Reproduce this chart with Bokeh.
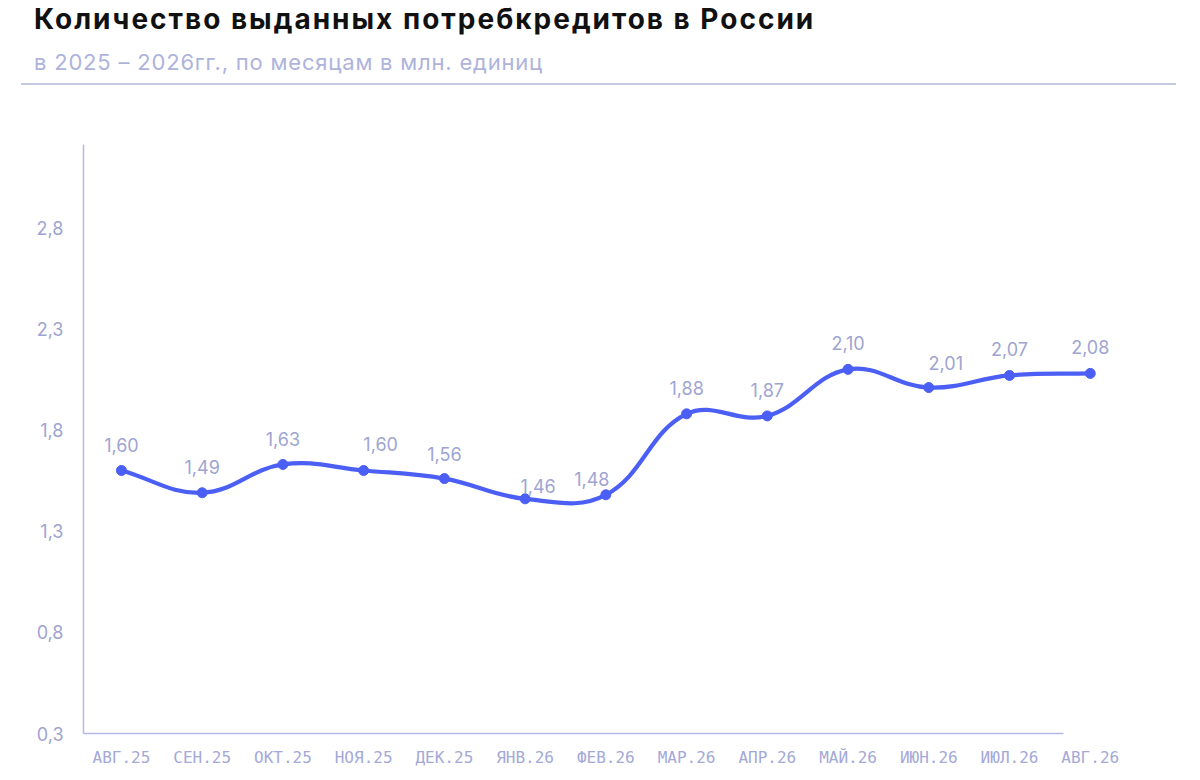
from bokeh.plotting import figure
from bokeh.models import Div, FixedTicker, CustomJSTickFormatter
from bokeh.layouts import column
from bokeh.core.properties import value
from bokeh.embed import file_html
from bokeh.resources import INLINE
import numpy as np

# data
months = ["АВГ.25", "СЕН.25", "ОКТ.25", "НОЯ.25", "ДЕК.25", "ЯНВ.26", "ФЕВ.26",
          "МАР.26", "АПР.26", "МАЙ.26", "ИЮН.26", "ИЮЛ.26", "АВГ.26"]
loans = [1.60, 1.49, 1.63, 1.60, 1.56, 1.46, 1.48, 1.88, 1.87, 2.10, 2.01, 2.07, 2.08]
y_ticks = [0.3, 0.8, 1.3, 1.8, 2.3, 2.8]

title = "Количество выданных потребкредитов в России"
subtitle = "в 2025 – 2026гг., по месяцам в млн. единиц"

# label nudges (px) so the value labels do not collide with the line
label_dx = [0, 0, 0, 17, 0, 13, -14, 0, 0, 0, 17, 0, 0]
label_dy = [-26, -26, -25, -27, -25, -13, -16, -26, -26, -26, -25, -26, -26]

BLUE = "#4b5ff5"
LAV = "#9ea4d2"
AXIS = "#b4b8e6"

xs = list(range(len(months)))
labels = [f"{v:.2f}".replace(".", ",") for v in loans]

W, H = 1184, 664
left, right, top, bottom = 83, 45, 34, 41
x0, x1 = -0.47, 12.61
y0 = 0.3
y1 = y0 + (H - top - bottom) / 202.3

p = figure(width=W, height=H, x_range=(x0, x1), y_range=(y0, y1),
           output_backend="svg", toolbar_location=None,
           min_border_left=left, min_border_right=right,
           min_border_top=top, min_border_bottom=bottom)
p.outline_line_color = None
p.xgrid.grid_line_color = None
p.ygrid.grid_line_color = None
p.background_fill_color = "white"
p.border_fill_color = "white"

# smooth line: chart.js-like spline, drawn as bezier segments
sx = (W - left - right) / (x1 - x0)
sy = (H - top - bottom) / (y1 - y0)
t = 0.4
px = np.array(xs, dtype=float)
py = np.array(loans, dtype=float)
n = len(px)
cin_x, cin_y = px.copy(), py.copy()
cout_x, cout_y = px.copy(), py.copy()
for i in range(n):
    ip = max(i - 1, 0)
    inx = min(i + 1, n - 1)
    d01 = np.hypot((px[i] - px[ip]) * sx, (py[i] - py[ip]) * sy)
    d12 = np.hypot((px[inx] - px[i]) * sx, (py[inx] - py[i]) * sy)
    s = d01 + d12
    fa = t * d01 / s if s else 0
    fb = t * d12 / s if s else 0
    cin_x[i] = px[i] - fa * (px[inx] - px[ip])
    cin_y[i] = py[i] - fa * (py[inx] - py[ip])
    cout_x[i] = px[i] + fb * (px[inx] - px[ip])
    cout_y[i] = py[i] + fb * (py[inx] - py[ip])

p.bezier(x0=px[:-1], y0=py[:-1], x1=px[1:], y1=py[1:],
         cx0=cout_x[:-1], cy0=cout_y[:-1], cx1=cin_x[1:], cy1=cin_y[1:],
         line_color=BLUE, line_width=4.2, line_cap="round")
p.scatter(xs, loans, size=10, color=BLUE)

p.text(x=xs, y=loans, text=labels, x_offset=label_dx, y_offset=label_dy,
       text_align="center", text_baseline="middle",
       text_font=value("Inter"), text_font_size="18px", text_color=LAV)

# axes
p.xaxis.ticker = FixedTicker(ticks=xs)
p.xaxis.major_label_overrides = {i: m for i, m in enumerate(months)}
p.xaxis.bounds = (x0, 11.67)
p.yaxis.ticker = FixedTicker(ticks=y_ticks)
p.yaxis.formatter = CustomJSTickFormatter(code="return tick.toFixed(1).replace('.', ',')")
for ax in (p.xaxis, p.yaxis):
    ax.axis_line_color = AXIS
    ax.axis_line_width = 1.5
    ax.major_tick_line_color = None
    ax.minor_tick_line_color = None
    ax.major_tick_out = 0
    ax.major_tick_in = 0
    ax.major_label_text_color = LAV
p.xaxis.major_label_text_font = "DejaVu Sans Mono"
p.xaxis.major_label_text_font_size = "16px"
p.xaxis.major_label_text_color = "#a4a9d8"
p.xaxis.major_label_standoff = 14
p.yaxis.major_label_text_font = "Inter"
p.yaxis.major_label_text_font_size = "18px"
p.yaxis.major_label_standoff = 20

header = Div(width=W, height=100, text=f"""
<div style="position:relative;width:{W}px;height:100px;">
  <div style="position:absolute;left:29px;top:0px;font-family:Inter;font-weight:700;
       font-size:28px;line-height:28px;letter-spacing:2px;color:#111;white-space:nowrap;">{title}</div>
  <div style="position:absolute;left:29px;top:46px;font-family:Inter;font-weight:400;
       font-size:22px;line-height:22px;letter-spacing:0.8px;color:#aeb3dc;white-space:nowrap;">{subtitle}</div>
  <div style="position:absolute;left:16px;top:78px;width:1155px;height:2px;background:#c5c8e2;"></div>
</div>""")

layout = column(header, p, spacing=0)
open("out.html", "w").write(file_html(layout, INLINE))
